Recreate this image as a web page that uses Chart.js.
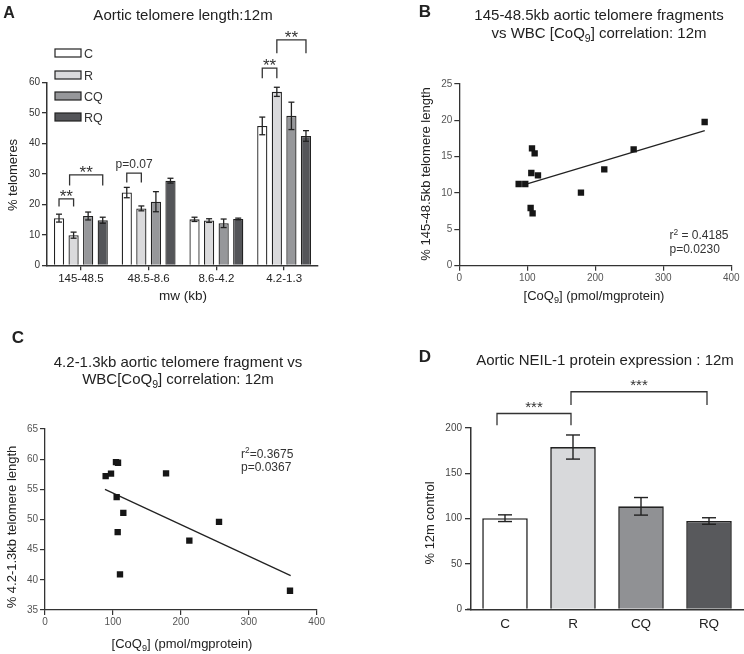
<!DOCTYPE html>
<html><head><meta charset="utf-8">
<script src="https://cdn.jsdelivr.net/npm/chart.js@4.4.1/dist/chart.umd.min.js"></script>
<style>
html,body{margin:0;padding:0;background:#fff;}
#wrap{position:relative;width:744px;height:654px;overflow:hidden;background:#fff;}
canvas{position:absolute;}
</style></head><body>
<div id="wrap">
<canvas id="cA" width="372" height="310" style="left:0;top:0"></canvas>
<canvas id="cB" width="372" height="310" style="left:372px;top:0"></canvas>
<canvas id="cC" width="372" height="334" style="left:0;top:320px"></canvas>
<canvas id="cD" width="372" height="334" style="left:372px;top:320px"></canvas>
</div>
<script>
// ---------- DATA ----------
const groupsA = ['145-48.5', '48.5-8.6', '8.6-4.2', '4.2-1.3'];
const seriesNames = ['C', 'R', 'CQ', 'RQ'];
const valsC  = [15.5, 23.9, 15.1, 45.8];
const valsR  = [9.9, 18.7, 14.7, 57.0];
const valsCQ = [16.2, 20.9, 13.8, 49.1];
const valsRQ = [14.8, 27.8, 15.2, 42.5];
const errC   = [1.3, 1.7, 0.7, 2.9];
const errR   = [1.0, 0.8, 0.6, 1.5];
const errCQ  = [1.3, 3.3, 1.4, 4.5];
const errRQ  = [1.0, 0.8, 0.3, 1.75];
const ticksA = [0, 10, 20, 30, 40, 50, 60];

const coqB = [87.3, 97, 106.9, 110.8, 105.9, 115.7, 104.9, 107.8, 178.9, 213.2, 256.4, 360.8];
const telB = [11.24, 11.24, 16.15, 15.46, 12.75, 12.43, 7.94, 7.2, 10.05, 13.26, 16.0, 19.77];
const fitBx = [101, 361];
const fitBy = [11.3, 18.6];

const coqC = [89.3, 97.2, 104.5, 107.5, 105.5, 115.3, 107, 110.4, 178.2, 212.5, 256.2, 360.7];
const telC = [57.2, 57.6, 59.5, 59.4, 53.7, 51.1, 47.9, 40.9, 57.65, 46.5, 49.6, 38.2];
const fitCx = [88.3, 361.7];
const fitCy = [55.0, 40.7];

const groupsD = ['C', 'R', 'CQ', 'RQ'];
const valsD = [100.5, 179, 113.6, 97.4];
const errD  = [3.7, 13.3, 9.7, 3.6];

// ---------- HELPERS ----------
const FONT = '"Liberation Sans", Arial, Helvetica, sans-serif';
const AX = '#333';
const colsA = ['#ffffff', '#dadadc', '#96979a', '#545559'];
const colsD = ['#ffffff', '#d8d9db', '#909194', '#58595c'];

function rich(ctx, parts, x, y, size, o) {
  o = o || {};
  ctx.save();
  ctx.fillStyle = o.color || '#222';
  ctx.textBaseline = 'alphabetic';
  const f = (s, b) => (b ? 'bold ' : '') + s + 'px ' + FONT;
  let w = 0;
  parts.forEach(p => { const s = (p.sub || p.sup) ? size * 0.7 : size; ctx.font = f(s, o.bold); p.w = ctx.measureText(p.t).width; w += p.w; });
  ctx.translate(x, y);
  if (o.rot) ctx.rotate(o.rot);
  let cx = o.align === 'left' ? 0 : (o.align === 'right' ? -w : -w / 2);
  const by = size * 0.36; // baseline so text is vertically centered
  parts.forEach(p => {
    const s = (p.sub || p.sup) ? size * 0.7 : size;
    ctx.font = f(s, o.bold);
    let dy = by;
    if (p.sub) dy = by + size * 0.22;
    if (p.sup) dy = by - size * 0.38;
    ctx.fillText(p.t, cx, dy);
    cx += p.w;
  });
  ctx.restore();
}
function T(ctx, s, x, y, size, o) { rich(ctx, [{t: s}], x, y, size, o); }

function line(ctx, pts, w, c) {
  ctx.save(); ctx.strokeStyle = c || AX; ctx.lineWidth = w || 1.3;
  ctx.beginPath(); ctx.moveTo(pts[0][0], pts[0][1]);
  for (let i = 1; i < pts.length; i++) ctx.lineTo(pts[i][0], pts[i][1]);
  ctx.stroke(); ctx.restore();
}

function drawErrors(chart, errs, cap, lw) {
  const ctx = chart.ctx, ys = chart.scales.y;
  chart.data.datasets.forEach((ds, di) => {
    const meta = chart.getDatasetMeta(di);
    meta.data.forEach((el, i) => {
      const v = ds.data[i], e = errs[di][i];
      const x = el.x, y1 = ys.getPixelForValue(v + e), y2 = ys.getPixelForValue(v - e);
      line(ctx, [[x, y1], [x, y2]], lw, '#222');
      line(ctx, [[x - cap, y1], [x + cap, y1]], lw, '#222');
      line(ctx, [[x - cap, y2], [x + cap, y2]], lw, '#222');
    });
  });
}

function bracket(chart, x1, x2, topV, legV, label, size, labelDy) {
  const ys = chart.scales.y, ctx = chart.ctx;
  const t = ys.getPixelForValue(topV), l = ys.getPixelForValue(legV);
  line(ctx, [[x1, l], [x1, t], [x2, t], [x2, l]], 1.3, AX);
  T(ctx, label, (x1 + x2) / 2, t + labelDy, size, {color: '#333'});
}
function barX(chart, di, i) { return chart.getDatasetMeta(di).data[i].x; }

const baseOpts = {
  responsive: false, animation: false, devicePixelRatio: 1,
  plugins: {legend: {display: false}, tooltip: {enabled: false}, title: {display: false}}
};

// ---------- PANEL A ----------
new Chart(document.getElementById('cA'), {
  type: 'bar',
  data: {
    labels: groupsA,
    datasets: [valsC, valsR, valsCQ, valsRQ].map((d, i) => ({
      label: seriesNames[i], data: d, backgroundColor: colsA[i], borderColor: '#222', borderWidth: 1.3,
      categoryPercentage: 0.86, barPercentage: 0.7
    }))
  },
  options: Object.assign({}, baseOpts, {
    layout: {padding: {left: 0, right: 54, top: 82.7, bottom: 14.7}},
    scales: {
      x: {
        grid: {display: true, drawOnChartArea: false, offset: false, tickLength: 5, color: AX, lineWidth: 1.3},
        border: {color: AX, width: 1.5},
        ticks: {font: {size: 11.5, family: FONT}, color: '#222', padding: 2},
        afterFit(s) { s.height = 30; }
      },
      y: {
        min: 0, max: 60,
        afterBuildTicks(s) { s.ticks = ticksA.map(v => ({value: v})); },
        grid: {drawOnChartArea: false, tickLength: 5, color: AX, lineWidth: 1.3},
        border: {color: AX, width: 1.5},
        ticks: {font: {size: 10, family: FONT}, color: '#333', padding: 2},
        afterFit(s) { s.width = 47; }
      }
    }
  }),
  plugins: [{
    id: 'decoA',
    afterDatasetsDraw(chart) { drawErrors(chart, [errC, errR, errCQ, errRQ], 3, 1.3); },
    afterDraw(chart) {
      const ctx = chart.ctx;
      T(ctx, 'A', 9, 12, 16, {bold: true, color: '#222'});
      T(ctx, 'Aortic telomere length:12m', 183, 15, 15, {color: '#222'});
      T(ctx, '% telomeres', 12, 175, 13, {rot: -Math.PI / 2, color: '#222'});
      T(ctx, 'mw (kb)', 183, 295, 13.5, {color: '#222'});
      // legend
      const ly = [53, 75, 96, 117];
      seriesNames.forEach((n, i) => {
        ctx.save(); ctx.fillStyle = colsA[i]; ctx.strokeStyle = '#222'; ctx.lineWidth = 1.2;
        ctx.fillRect(55, ly[i] - 4, 26, 8); ctx.strokeRect(55, ly[i] - 4, 26, 8); ctx.restore();
        T(ctx, n, 84, ly[i], 12.5, {align: 'left', color: '#333'});
      });
      // significance brackets
      bracket(chart, barX(chart, 0, 0), barX(chart, 1, 0), 21.8, 19.3, '**', 17, -3);
      bracket(chart, barX(chart, 1, 0) - 4, barX(chart, 3, 0), 29.7, 26.2, '**', 17, -3);
      bracket(chart, barX(chart, 0, 1), barX(chart, 1, 1), 30.3, 27.2, 'p=0.07', 12, -9);
      bracket(chart, barX(chart, 0, 3), barX(chart, 1, 3), 64.8, 61.5, '**', 17, -3);
      bracket(chart, barX(chart, 1, 3), barX(chart, 3, 3), 74.1, 69.7, '**', 17, -3);
    }
  }]
});

// ---------- SCATTER factory ----------
function scatterChart(id, xs, ys, fx, fy, yMin, yMax, yStep, pad, yW, deco) {
  return new Chart(document.getElementById(id), {
    type: 'scatter',
    data: {
      datasets: [
        {data: xs.map((x, i) => ({x: x, y: ys[i]})), pointStyle: 'rect', pointRadius: 4.5,
         backgroundColor: '#161616', borderColor: '#161616', borderWidth: 0},
        {type: 'line', data: fx.map((x, i) => ({x: x, y: fy[i]})), borderColor: '#222', borderWidth: 1.3,
         pointRadius: 0, fill: false, showLine: true}
      ]
    },
    options: Object.assign({}, baseOpts, {
      layout: {padding: pad},
      scales: {
        x: {
          type: 'linear', min: 0, max: 400,
          ticks: {stepSize: 100, font: {size: 10, family: FONT}, color: '#555', padding: 1.5},
          grid: {drawOnChartArea: false, tickLength: 5, color: AX, lineWidth: 1.2},
          border: {color: AX, width: 1.3},
          afterFit(s) { s.height = 30; }
        },
        y: {
          min: yMin, max: yMax,
          ticks: {stepSize: yStep, font: {size: 10, family: FONT}, color: '#555', padding: 2},
          grid: {drawOnChartArea: false, tickLength: 5, color: AX, lineWidth: 1.2},
          border: {color: AX, width: 1.3},
          afterFit(s) { s.width = yW; }
        }
      }
    }),
    plugins: [{id: 'deco' + id, afterDraw: deco}]
  });
}
const coqLabel = [{t: '[CoQ'}, {t: '9', sub: true}, {t: '] (pmol/mgprotein)'}];

// ---------- PANEL B ----------
scatterChart('cB', coqB, telB, fitBx, fitBy, 0, 25, 5, {left: 0, right: 12.7, top: 84, bottom: 14.3}, 87.3, function (chart) {
  const ctx = chart.ctx;
  T(ctx, 'B', 53, 11, 17, {bold: true, color: '#222'});
  T(ctx, '145-48.5kb aortic telomere fragments', 227, 15, 15, {color: '#222'});
  rich(ctx, [{t: 'vs WBC [CoQ'}, {t: '9', sub: true}, {t: '] correlation: 12m'}], 227, 33, 15, {color: '#222'});
  T(ctx, '% 145-48.5kb telomere length', 53, 174, 13, {rot: -Math.PI / 2, color: '#222'});
  rich(ctx, coqLabel, 222, 295, 13, {color: '#222'});
  rich(ctx, [{t: 'r'}, {t: '2', sup: true}, {t: ' = 0.4185'}], 297.5, 235, 12, {align: 'left', color: '#333'});
  T(ctx, 'p=0.0230', 297.5, 248.5, 12, {align: 'left', color: '#333'});
});

// ---------- PANEL C ----------
scatterChart('cC', coqC, telC, fitCx, fitCy, 35, 65, 5, {left: 0, right: 55.3, top: 109, bottom: 14}, 45, function (chart) {
  const ctx = chart.ctx;
  T(ctx, 'C', 18, 17, 17, {bold: true, color: '#222'});
  T(ctx, '4.2-1.3kb aortic telomere fragment vs', 178, 42, 15, {color: '#222'});
  rich(ctx, [{t: 'WBC[CoQ'}, {t: '9', sub: true}, {t: '] correlation: 12m'}], 178, 59, 15, {color: '#222'});
  T(ctx, '% 4.2-1.3kb telomere length', 11, 207, 13, {rot: -Math.PI / 2, color: '#222'});
  rich(ctx, coqLabel, 182, 323, 13, {color: '#222'});
  rich(ctx, [{t: 'r'}, {t: '2', sup: true}, {t: '=0.3675'}], 241, 133.5, 12, {align: 'left', color: '#333'});
  T(ctx, 'p=0.0367', 241, 147, 12, {align: 'left', color: '#333'});
});

// ---------- PANEL D ----------
new Chart(document.getElementById('cD'), {
  type: 'bar',
  data: {
    labels: groupsD,
    datasets: [{data: valsD, backgroundColor: colsD, borderColor: '#222', borderWidth: 1.6,
      categoryPercentage: 1, barPercentage: 0.67}]
  },
  options: Object.assign({}, baseOpts, {
    layout: {padding: {left: 0, right: 1, top: 108, bottom: 9.7}},
    scales: {
      x: {
        grid: {display: false, drawTicks: false, tickLength: 0},
        border: {color: AX, width: 1.5},
        ticks: {font: {size: 13.5, family: FONT}, color: '#222', padding: 7},
        afterFit(s) { s.height = 35; }
      },
      y: {
        min: 0, max: 200,
        ticks: {stepSize: 50, font: {size: 10, family: FONT}, color: '#444', padding: 3},
        grid: {drawOnChartArea: false, tickLength: 6, color: AX, lineWidth: 1.3},
        border: {color: AX, width: 1.5},
        afterFit(s) { s.width = 99; }
      }
    }
  }),
  plugins: [{
    id: 'decoD',
    afterDatasetsDraw(chart) { drawErrors(chart, [errD], 7, 1.4); },
    afterDraw(chart) {
      const ctx = chart.ctx, a = chart.chartArea;
      line(ctx, [[a.left - 4, a.bottom], [a.left, a.bottom]], 1.5, AX);
      T(ctx, 'D', 53, 36, 17, {bold: true, color: '#222'});
      T(ctx, 'Aortic NEIL-1 protein expression : 12m', 233, 40, 15, {color: '#222'});
      T(ctx, '% 12m control', 57, 203, 13, {rot: -Math.PI / 2, color: '#222'});
      bracket(chart, barX(chart, 0, 0) - 8, barX(chart, 0, 1) - 2, 216, 203, '***', 15, -7);
      bracket(chart, barX(chart, 0, 1) - 2, barX(chart, 0, 3) - 2, 240, 225.4, '***', 15, -7);
    }
  }]
});
</script>
</body></html>
